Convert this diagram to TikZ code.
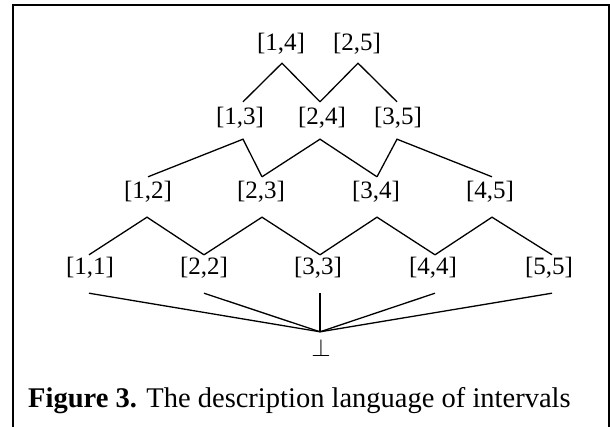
\documentclass[tikz,border=0pt]{standalone}
\usepackage{fontspec}
\setmainfont{Liberation Serif}
\begin{document}
\begin{tikzpicture}[x=1pt,y=-1pt,
  lbl/.style={inner sep=0pt,text height=17pt,text depth=4.4pt,font=\fontsize{25}{30}\selectfont},
  edge/.style={line width=1.3pt,line join=miter},
  frame/.style={line width=2pt}]
\useasboundingbox (0,0) rectangle (610,427);
\draw[frame] (13,427) -- (13,5) -- (609,5) -- (609,427);
% row 1
\node[lbl] (n14) at (281,44) {[1,4]};
\node[lbl] (n25) at (357,44) {[2,5]};
% row 2
\node[lbl] (n13) at (240,118) {[1,3]};
\node[lbl] (n24) at (322,118) {[2,4]};
\node[lbl] (n35) at (398,118) {[3,5]};
% row 3
\node[lbl] (n12) at (148,192) {[1,2]};
\node[lbl] (n23) at (261,192) {[2,3]};
\node[lbl] (n34) at (376,192) {[3,4]};
\node[lbl] (n45) at (490,192) {[4,5]};
% row 4
\node[lbl] (n11) at (90,268) {[1,1]};
\node[lbl] (n22) at (204,268) {[2,2]};
\node[lbl] (n33) at (318,268) {[3,3]};
\node[lbl] (n44) at (433,268) {[4,4]};
\node[lbl] (n55) at (549,268) {[5,5]};
% bottom
\node[lbl] (bot) at (321,350) {$\bot$};
% caption
\node[anchor=base west,inner sep=0pt,font=\fontsize{28.5}{33}\selectfont] (cap) at (28,407) {\textbf{Figure 3.} The description language of intervals};
% edges row 1 - row 2
\draw[edge] ([xshift=3pt,yshift=5.3pt]n13.north) -- ([xshift=1pt,yshift=-8.3pt]n14.south) -- ([xshift=-2pt,yshift=5.3pt]n24.north);
\draw[edge] ([xshift=-2pt,yshift=5.3pt]n24.north) -- ([xshift=1pt,yshift=-8.3pt]n25.south) -- ([xshift=-1pt,yshift=5.3pt]n35.north);
% edges row 2 - row 3
\draw[edge] ([yshift=4.3pt]n12.north) -- ([xshift=3pt,yshift=-10.3pt]n13.south) -- ([xshift=1pt,yshift=4.3pt]n23.north);
\draw[edge] ([xshift=1pt,yshift=4.3pt]n23.north) -- ([xshift=-2pt,yshift=-10.3pt]n24.south) -- ([xshift=1pt,yshift=4.3pt]n34.north);
\draw[edge] ([xshift=1pt,yshift=4.3pt]n34.north) -- ([xshift=-1pt,yshift=-10.3pt]n35.south) -- ([xshift=2pt,yshift=4.3pt]n45.north);
% edges row 3 - row 4
\draw[edge] ([xshift=-1pt,yshift=2.3pt]n11.north) -- ([xshift=-1pt,yshift=-14.3pt]n12.south) -- ([yshift=2.3pt]n22.north);
\draw[edge] ([yshift=2.3pt]n22.north) -- ([xshift=1pt,yshift=-14.3pt]n23.south) -- ([xshift=2pt,yshift=2.3pt]n33.north);
\draw[edge] ([xshift=2pt,yshift=2.3pt]n33.north) -- ([xshift=1pt,yshift=-14.3pt]n34.south) -- ([xshift=2pt,yshift=2.3pt]n44.north);
\draw[edge] ([xshift=2pt,yshift=2.3pt]n44.north) -- ([xshift=2pt,yshift=-14.3pt]n45.south) -- ([xshift=3pt,yshift=2.3pt]n55.north);
% edges row 4 - bottom
\foreach \n/\dx in {n11/-1,n22/0,n33/2,n44/2,n55/3}
  \draw[edge] ([xshift=\dx pt,yshift=-14.3pt]\n.south) -- ([xshift=-1pt,yshift=7.3pt]bot.north);
\end{tikzpicture}
\end{document}
